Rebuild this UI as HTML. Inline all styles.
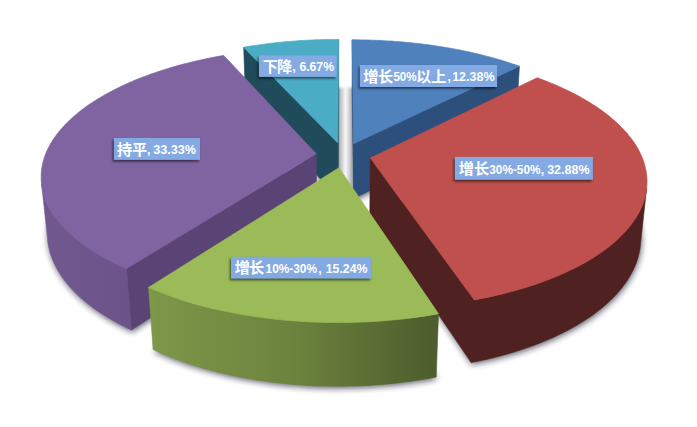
<!DOCTYPE html>
<html lang="zh"><head><meta charset="utf-8"><title>3D pie chart</title>
<style>
html,body{margin:0;padding:0;background:#fff}
body{width:697px;height:427px;overflow:hidden;font-family:"Liberation Sans",sans-serif}
svg{display:block}
.lb{fill:#83aae2}
.cj text{fill:#fff;font-family:"Liberation Sans","Noto Sans CJK SC",sans-serif;font-weight:bold;font-size:15.2px}
.lt text{fill:#fff;font-family:"Liberation Sans",sans-serif;font-weight:bold;font-size:12.4px}
</style></head><body>
<svg width="697" height="427" viewBox="0 0 697 427">
<defs>
<filter id="sh" x="-10%" y="-10%" width="120%" height="130%"><feGaussianBlur stdDeviation="3.2"/></filter>
<linearGradient id="strip" x1="0" y1="0" x2="1" y2="0"><stop offset="0" stop-color="#9a9ba0"/><stop offset="0.22" stop-color="#c9c9cb"/><stop offset="0.52" stop-color="#f7f7f7"/><stop offset="0.78" stop-color="#cfcfd4"/><stop offset="1" stop-color="#9c9fa8"/></linearGradient>
<linearGradient id="stripfade" x1="0" y1="0" x2="0" y2="1"><stop offset="0" stop-color="#fff"/><stop offset="0.35" stop-color="#fff"/><stop offset="1" stop-color="#fff" stop-opacity="0"/></linearGradient>
<filter id="ls" x="-10%" y="-30%" width="120%" height="170%"><feGaussianBlur stdDeviation="1.3"/></filter>
<linearGradient id="g_purple" gradientUnits="userSpaceOnUse" x1="126.4" y1="0" x2="41.6" y2="0"><stop offset="0.000" stop-color="#6c5489"/><stop offset="1.000" stop-color="#71588f"/></linearGradient>
<linearGradient id="g_red" gradientUnits="userSpaceOnUse" x1="646.6" y1="0" x2="474.3" y2="0"><stop offset="0.000" stop-color="#512220"/><stop offset="1.000" stop-color="#512220"/></linearGradient>
<linearGradient id="g_green" gradientUnits="userSpaceOnUse" x1="438.5" y1="0" x2="148.6" y2="0"><stop offset="0.000" stop-color="#4c5c2c"/><stop offset="0.500" stop-color="#6c833e"/><stop offset="1.000" stop-color="#7e9748"/></linearGradient>
</defs>
<rect width="697" height="427" fill="#fff"/>
<g filter="url(#sh)" fill="#1a1a33" opacity="0.72" transform="translate(0.8 2.0)"><polygon points="337.9,198.0 245.4,96.9 252.4,95.6 259.4,94.5 266.4,93.5 273.5,92.5 280.7,91.7 287.9,91.0 295.1,90.3 302.3,89.8 309.6,89.3 316.8,89.0 324.1,88.7 331.4,88.6 338.7,88.5"/><polygon points="353.5,198.7 352.1,89.0 359.7,89.1 367.3,89.2 374.8,89.5 382.4,89.9 389.9,90.4 397.4,90.9 404.9,91.6 412.4,92.4 419.8,93.3 427.1,94.4 434.4,95.5 441.7,96.7 448.9,98.0 456.0,99.4 463.1,101.0 470.1,102.6 477.0,104.4 483.8,106.2 490.5,108.2 497.2,110.2 503.7,112.4 510.1,114.6 516.4,117.0"/><polygon points="316.7,209.4 131.4,330.0 123.8,326.3 116.6,322.6 109.7,318.7 103.2,314.7 97.0,310.6 91.2,306.4 85.7,302.1 80.6,297.7 75.9,293.2 71.5,288.7 67.5,284.1 63.9,279.5 60.6,274.8 57.7,270.1 55.1,265.3 53.0,260.6 51.1,255.8 49.7,251.0 48.6,246.3 47.8,241.5 47.4,236.7 47.3,232.0 47.6,227.3 48.1,222.6 49.1,218.0 50.3,213.4 51.8,208.8 53.6,204.3 55.7,199.9 58.1,195.5 60.8,191.2 63.8,186.9 67.0,182.7 70.5,178.6 74.2,174.6 78.1,170.7 82.3,166.8 86.8,163.0 91.4,159.3 96.2,155.7 101.3,152.2 106.5,148.8 111.9,145.5 117.5,142.3 123.3,139.2 129.3,136.2 135.4,133.3 141.6,130.5 148.0,127.8 154.5,125.2 161.2,122.8 168.0,120.4 174.9,118.1 181.9,116.0 189.0,114.0 196.2,112.0 203.5,110.2 210.8,108.5 218.3,107.0 225.8,105.5"/><polygon points="369.8,213.9 533.8,129.2 540.3,131.8 546.8,134.6 553.1,137.4 559.2,140.4 565.2,143.4 571.0,146.6 576.6,149.9 582.1,153.2 587.3,156.7 592.4,160.3 597.2,164.0 601.9,167.7 606.3,171.6 610.5,175.5 614.4,179.5 618.2,183.6 621.6,187.8 624.8,192.1 627.7,196.4 630.4,200.8 632.8,205.3 634.8,209.8 636.6,214.4 638.1,219.0 639.2,223.7 640.1,228.4 640.6,233.2 640.8,238.0 640.6,242.8 640.1,247.6 639.3,252.5 638.0,257.3 636.5,262.2 634.5,267.0 632.2,271.9 629.6,276.7 626.5,281.5 623.1,286.2 619.3,290.9 615.2,295.6 610.6,300.1 605.7,304.6 600.4,309.1 594.8,313.4 588.8,317.7 582.4,321.8 575.7,325.9 568.6,329.8 561.2,333.6 553.5,337.2 545.5,340.7 537.1,344.0 528.5,347.2 519.6,350.3 510.4,353.1 500.9,355.8 491.3,358.2 481.3,360.5 471.2,362.6"/><polygon points="339.0,224.1 436.2,377.0 426.0,378.9 415.6,380.6 405.1,382.0 394.5,383.3 383.7,384.3 372.9,385.1 362.0,385.7 351.1,386.1 340.2,386.2 329.2,386.2 318.3,385.9 307.4,385.4 296.6,384.6 285.8,383.7 275.1,382.5 264.6,381.1 254.2,379.5 243.9,377.7 233.8,375.7 223.9,373.5 214.2,371.1 204.7,368.6 195.5,365.8 186.4,362.9 177.7,359.8 169.2,356.5 161.0,353.1 153.1,349.5"/></g>
<g id="gap"><rect x="338" y="84" width="14.6" height="112" fill="url(#strip)"/><rect x="337" y="83" width="17" height="7" fill="url(#stripfade)"/></g>
<g id="s_teal"><polygon points="337.8,143.0 243.7,47.2 245.4,96.9 337.9,198.0" fill="#1f4b5a" stroke="#1f4b5a" stroke-width="0.6"/><polygon points="337.8,143.0 338.6,39.4 338.7,88.5 337.9,198.0" fill="#1f4b5a" stroke="#1f4b5a" stroke-width="0.6"/><polygon points="337.8,143.0 243.7,47.2 247.4,46.6 251.1,46.0 254.8,45.5 258.5,44.9 262.2,44.4 266.0,43.9 269.7,43.4 273.5,43.0 277.3,42.6 281.1,42.2 284.9,41.8 288.7,41.5 292.5,41.2 296.3,40.9 300.1,40.6 304.0,40.4 307.8,40.2 311.6,40.0 315.5,39.8 319.3,39.7 323.2,39.6 327.0,39.5 330.9,39.4 334.8,39.4 338.6,39.4" fill="#4bacc6" stroke="#4bacc6" stroke-width="0.7" stroke-linejoin="round"/></g>
<g id="s_blue"><polygon points="353.7,143.7 352.2,39.8 352.1,89.0 353.5,198.7" fill="#2c4f7b" stroke="#2c4f7b" stroke-width="0.6"/><polygon points="353.7,143.7 519.4,66.2 516.4,117.0 353.5,198.7" fill="#2c4f7b" stroke="#2c4f7b" stroke-width="0.6"/><polygon points="353.7,143.7 352.2,39.8 356.2,39.8 360.1,39.9 364.1,39.9 368.0,40.0 371.9,40.2 375.9,40.3 379.8,40.5 383.7,40.7 387.6,40.9 391.6,41.1 395.5,41.4 399.4,41.7 403.3,42.1 407.1,42.4 411.0,42.8 414.9,43.2 418.7,43.6 422.6,44.1 426.4,44.6 430.2,45.1 434.0,45.6 437.8,46.2 441.6,46.8 445.4,47.4 449.1,48.0 452.8,48.7 456.5,49.4 460.2,50.1 463.9,50.9 467.6,51.6 471.2,52.4 474.8,53.3 478.4,54.1 482.0,55.0 485.5,55.9 489.0,56.8 492.5,57.7 496.0,58.7 499.4,59.7 502.8,60.7 506.2,61.8 509.6,62.9 512.9,64.0 516.2,65.1 519.4,66.2" fill="#4f81bd" stroke="#4f81bd" stroke-width="0.7" stroke-linejoin="round"/></g>
<g id="s_purple"><polygon points="316.2,153.8 126.4,268.7 131.4,330.0 316.7,209.4" fill="#5a4375" stroke="#5a4375" stroke-width="0.6"/><polygon points="126.4,268.7 122.5,267.0 118.7,265.2 115.0,263.4 111.3,261.6 107.8,259.8 104.3,257.9 100.9,256.0 97.6,254.0 94.4,252.1 91.3,250.1 88.3,248.1 85.4,246.1 82.5,244.0 79.8,241.9 77.1,239.8 74.6,237.7 72.1,235.6 69.7,233.4 67.5,231.3 65.3,229.1 63.2,226.9 61.2,224.7 59.3,222.5 57.5,220.3 55.8,218.0 54.2,215.8 52.7,213.5 51.3,211.3 50.0,209.0 48.8,206.7 47.6,204.5 46.6,202.2 45.6,199.9 44.8,197.6 44.0,195.3 43.3,193.1 42.8,190.8 42.3,188.5 41.9,186.2 41.6,183.9 47.8,241.1 48.1,243.4 48.5,245.8 49.0,248.2 49.6,250.6 50.2,253.0 51.0,255.4 51.9,257.8 52.8,260.2 53.8,262.6 55.0,265.0 56.2,267.4 57.5,269.8 58.9,272.1 60.4,274.5 62.0,276.9 63.7,279.2 65.4,281.5 67.3,283.9 69.3,286.2 71.3,288.5 73.5,290.8 75.7,293.0 78.0,295.3 80.4,297.5 83.0,299.7 85.6,301.9 88.3,304.1 91.1,306.2 93.9,308.4 96.9,310.5 100.0,312.6 103.1,314.6 106.3,316.6 109.7,318.6 113.1,320.6 116.6,322.5 120.1,324.5 123.8,326.3 127.5,328.2 131.4,330.0" fill="url(#g_purple)" stroke="url(#g_purple)" stroke-width="0.6"/><polygon points="316.2,153.8 126.4,268.7 122.5,267.0 118.7,265.3 115.0,263.5 111.4,261.7 107.9,259.8 104.4,257.9 101.0,256.0 97.7,254.1 94.5,252.2 91.4,250.2 88.4,248.2 85.5,246.2 82.7,244.1 79.9,242.1 77.3,240.0 74.8,237.9 72.3,235.8 69.9,233.6 67.7,231.5 65.5,229.3 63.4,227.1 61.4,224.9 59.5,222.7 57.7,220.5 56.0,218.3 54.4,216.1 52.9,213.8 51.5,211.6 50.2,209.3 48.9,207.1 47.8,204.8 46.7,202.5 45.8,200.3 44.9,198.0 44.1,195.7 43.4,193.4 42.9,191.2 42.4,188.9 41.9,186.6 41.6,184.3 41.4,182.1 41.2,179.8 41.2,177.6 41.2,175.3 41.3,173.1 41.5,170.8 41.7,168.6 42.1,166.4 42.5,164.2 43.1,162.0 43.7,159.8 44.3,157.6 45.1,155.4 45.9,153.3 46.8,151.1 47.8,149.0 48.9,146.9 50.0,144.8 51.2,142.7 52.5,140.6 53.8,138.6 55.3,136.5 56.7,134.5 58.3,132.5 59.9,130.5 61.6,128.5 63.4,126.6 65.2,124.6 67.1,122.7 69.0,120.8 71.0,118.9 73.1,117.1 75.2,115.2 77.4,113.4 79.6,111.6 81.9,109.8 84.2,108.1 86.6,106.3 89.1,104.6 91.6,102.9 94.1,101.3 96.8,99.6 99.4,98.0 102.1,96.4 104.9,94.8 107.7,93.2 110.5,91.7 113.4,90.2 116.3,88.7 119.3,87.3 122.3,85.8 125.3,84.4 128.4,83.0 131.6,81.7 134.7,80.3 137.9,79.0 141.2,77.7 144.5,76.5 147.8,75.3 151.1,74.0 154.5,72.9 157.9,71.7 161.4,70.6 164.8,69.5 168.3,68.4 171.8,67.3 175.4,66.3 179.0,65.3 182.6,64.3 186.2,63.4 189.9,62.5 193.6,61.6 197.3,60.7 201.0,59.9 204.7,59.1 208.5,58.3 212.3,57.5 216.1,56.8 219.9,56.1 223.7,55.4" fill="#8064a2" stroke="#8064a2" stroke-width="0.7" stroke-linejoin="round"/></g>
<g id="s_red"><polygon points="370.3,158.1 474.3,299.9 471.2,362.6 369.8,213.9" fill="#4f2120" stroke="#4f2120" stroke-width="0.6"/><polygon points="646.6,188.5 646.3,190.8 645.9,193.1 645.4,195.4 644.8,197.7 644.1,200.0 643.4,202.3 642.5,204.6 641.6,206.9 640.6,209.2 639.4,211.5 638.2,213.8 636.9,216.1 635.5,218.4 634.0,220.6 632.4,222.9 630.7,225.1 628.9,227.4 627.0,229.6 625.1,231.8 623.0,234.0 620.8,236.2 618.6,238.4 616.2,240.6 613.8,242.7 611.2,244.9 608.6,247.0 605.8,249.1 603.0,251.1 600.1,253.2 597.1,255.2 594.0,257.2 590.8,259.2 587.5,261.2 584.1,263.1 580.7,265.0 577.1,266.9 573.5,268.7 569.8,270.5 566.0,272.3 562.1,274.1 558.1,275.8 554.0,277.5 549.9,279.1 545.7,280.7 541.4,282.3 537.1,283.8 532.6,285.3 528.1,286.8 523.5,288.2 518.9,289.5 514.2,290.9 509.4,292.2 504.6,293.4 499.7,294.6 494.7,295.8 489.7,296.9 484.6,297.9 479.5,298.9 474.3,299.9 471.2,362.6 476.3,361.6 481.3,360.5 486.3,359.4 491.2,358.3 496.0,357.0 500.8,355.8 505.5,354.5 510.2,353.2 514.8,351.8 519.4,350.3 523.8,348.8 528.3,347.3 532.6,345.8 536.9,344.2 541.1,342.5 545.2,340.8 549.2,339.1 553.2,337.4 557.1,335.6 560.9,333.7 564.6,331.9 568.3,330.0 571.8,328.0 575.3,326.1 578.7,324.1 582.0,322.1 585.2,320.0 588.4,318.0 591.4,315.9 594.4,313.7 597.2,311.6 600.0,309.4 602.7,307.2 605.3,305.0 607.8,302.8 610.2,300.5 612.5,298.2 614.8,296.0 616.9,293.7 618.9,291.3 620.9,289.0 622.7,286.7 624.5,284.3 626.2,282.0 627.8,279.6 629.2,277.2 630.6,274.8 631.9,272.4 633.2,270.0 634.3,267.6 635.3,265.2 636.3,262.8 637.1,260.4 637.9,258.0 638.5,255.6 639.1,253.1 639.6,250.7 640.0,248.3 640.3,245.9" fill="#4f2120" stroke="#4f2120" stroke-width="0.6"/><polygon points="370.3,158.1 537.2,77.8 540.6,79.0 543.9,80.3 547.2,81.6 550.5,82.9 553.7,84.2 556.9,85.6 560.1,87.0 563.2,88.4 566.2,89.8 569.3,91.3 572.3,92.8 575.2,94.3 578.1,95.8 581.0,97.4 583.8,99.0 586.5,100.6 589.2,102.2 591.9,103.9 594.5,105.5 597.1,107.2 599.6,109.0 602.1,110.7 604.5,112.5 606.8,114.3 609.1,116.1 611.3,117.9 613.5,119.8 615.6,121.7 617.7,123.6 619.7,125.5 621.6,127.4 623.5,129.4 625.3,131.4 627.1,133.3 628.7,135.4 630.4,137.4 631.9,139.4 633.4,141.5 634.8,143.6 636.1,145.7 637.4,147.8 638.6,149.9 639.7,152.1 640.7,154.2 641.7,156.4 642.6,158.6 643.4,160.8 644.1,163.0 644.7,165.2 645.3,167.4 645.8,169.7 646.2,171.9 646.5,174.2 646.8,176.5 646.9,178.7 647.0,181.0 647.0,183.3 646.8,185.6 646.7,187.9 646.4,190.2 646.0,192.5 645.5,194.8 645.0,197.1 644.3,199.4 643.6,201.7 642.8,204.1 641.8,206.4 640.8,208.7 639.7,211.0 638.5,213.3 637.2,215.6 635.8,217.9 634.3,220.1 632.7,222.4 631.1,224.7 629.3,226.9 627.4,229.2 625.4,231.4 623.4,233.6 621.2,235.8 619.0,238.0 616.6,240.2 614.2,242.4 611.6,244.5 609.0,246.7 606.3,248.8 603.4,250.8 600.5,252.9 597.5,254.9 594.4,257.0 591.2,259.0 587.9,260.9 584.5,262.9 581.1,264.8 577.5,266.7 573.9,268.5 570.1,270.3 566.3,272.1 562.4,273.9 558.4,275.6 554.4,277.3 550.2,279.0 546.0,280.6 541.7,282.2 537.3,283.7 532.9,285.2 528.3,286.7 523.8,288.1 519.1,289.5 514.4,290.8 509.6,292.1 504.7,293.4 499.8,294.6 494.8,295.7 489.7,296.9 484.6,297.9 479.5,298.9 474.3,299.9" fill="#c0504d" stroke="#c0504d" stroke-width="0.7" stroke-linejoin="round"/></g>
<g id="s_green"><polygon points="438.5,313.7 433.2,314.7 427.9,315.6 422.5,316.4 417.0,317.2 411.6,317.9 406.0,318.6 400.5,319.2 394.9,319.8 389.4,320.3 383.7,320.8 378.1,321.2 372.4,321.6 366.8,321.9 361.1,322.1 355.4,322.3 349.7,322.5 344.0,322.5 338.3,322.6 332.5,322.5 326.8,322.5 321.1,322.3 315.4,322.1 309.8,321.9 304.1,321.6 298.4,321.2 292.8,320.8 287.2,320.4 281.6,319.8 276.0,319.3 270.5,318.6 265.0,318.0 259.5,317.2 254.1,316.5 248.7,315.6 243.4,314.7 238.1,313.8 232.8,312.8 227.6,311.8 222.5,310.7 217.4,309.6 212.3,308.4 207.3,307.2 202.4,305.9 197.5,304.6 192.7,303.2 188.0,301.8 183.3,300.4 178.7,298.9 174.2,297.4 169.7,295.8 165.4,294.2 161.1,292.6 156.8,290.9 152.7,289.2 148.6,287.4 153.1,349.5 157.1,351.4 161.2,353.2 165.3,354.9 169.5,356.6 173.8,358.3 178.2,359.9 182.6,361.5 187.1,363.1 191.7,364.6 196.3,366.1 201.0,367.5 205.7,368.9 210.5,370.2 215.4,371.5 220.3,372.7 225.3,373.9 230.4,375.0 235.4,376.1 240.6,377.1 245.8,378.1 251.0,379.0 256.2,379.9 261.5,380.7 266.9,381.4 272.2,382.2 277.6,382.8 283.1,383.4 288.5,383.9 294.0,384.4 299.5,384.9 305.0,385.2 310.6,385.5 316.1,385.8 321.7,386.0 327.2,386.1 332.8,386.2 338.4,386.2 344.0,386.2 349.5,386.1 355.1,386.0 360.7,385.8 366.2,385.5 371.7,385.2 377.3,384.8 382.8,384.4 388.3,383.9 393.7,383.4 399.1,382.8 404.5,382.1 409.9,381.4 415.3,380.6 420.6,379.8 425.8,378.9 431.1,378.0 436.2,377.0" fill="url(#g_green)" stroke="url(#g_green)" stroke-width="0.6"/><polygon points="338.9,167.8 438.5,313.7 433.2,314.7 427.9,315.6 422.5,316.4 417.0,317.2 411.6,317.9 406.0,318.6 400.5,319.2 394.9,319.8 389.4,320.3 383.7,320.8 378.1,321.2 372.4,321.6 366.8,321.9 361.1,322.1 355.4,322.3 349.7,322.5 344.0,322.5 338.3,322.6 332.5,322.5 326.8,322.5 321.1,322.3 315.4,322.1 309.8,321.9 304.1,321.6 298.4,321.2 292.8,320.8 287.2,320.4 281.6,319.8 276.0,319.3 270.5,318.6 265.0,318.0 259.5,317.2 254.1,316.5 248.7,315.6 243.4,314.7 238.1,313.8 232.8,312.8 227.6,311.8 222.5,310.7 217.4,309.6 212.3,308.4 207.3,307.2 202.4,305.9 197.5,304.6 192.7,303.2 188.0,301.8 183.3,300.4 178.7,298.9 174.2,297.4 169.7,295.8 165.4,294.2 161.1,292.6 156.8,290.9 152.7,289.2 148.6,287.4" fill="#9bbb59" stroke="#9bbb59" stroke-width="0.7" stroke-linejoin="round"/></g>
<g id="labshadow" filter="url(#ls)" fill="#000" opacity="0.55" transform="translate(-1.2 1.8)"><rect x="359.8" y="65.0" width="137.3" height="22.0"/><rect x="454.8" y="156.9" width="138.1" height="22.9"/><rect x="231.0" y="256.8" width="140.3" height="21.8"/><rect x="113.9" y="138.0" width="86.1" height="21.9"/><rect x="258.9" y="55.3" width="77.9" height="21.6"/></g>
<g id="labels" ><g id="l_blue"><rect class="lb" x="359.8" y="65.0" width="137.3" height="22.0"/><g class="cj"><text x="363.17 378.12" y="81.62">增长</text><text x="415.95 431.35" y="81.62">以上</text></g><g class="lt"><text x="393.4" y="81.0" textLength="23.3" lengthAdjust="spacingAndGlyphs">50%</text> <text x="447.4" y="81.0">,</text> <text x="452.2" y="81.0" textLength="42.3" lengthAdjust="spacingAndGlyphs">12.38%</text></g></g>
<g id="l_red"><rect class="lb" x="454.8" y="156.9" width="138.1" height="22.9"/><g class="cj"><text x="458.77 473.92" y="173.52">增长</text></g><g class="lt"><text x="489.3" y="173.8" textLength="51.2" lengthAdjust="spacingAndGlyphs">30%-50%</text> <text x="540.8" y="173.8">,</text> <text x="547.2" y="173.8" textLength="42.3" lengthAdjust="spacingAndGlyphs">32.88%</text></g></g>
<g id="l_green"><rect class="lb" x="231.0" y="256.8" width="140.3" height="21.8"/><g class="cj"><text x="234.87 249.12" y="273.42">增长</text></g><g class="lt"><text x="265.6" y="272.6" textLength="51.4" lengthAdjust="spacingAndGlyphs">10%-30%</text> <text x="318.2" y="272.6">,</text> <text x="325.8" y="272.6" textLength="41.6" lengthAdjust="spacingAndGlyphs">15.24%</text></g></g>
<g id="l_purple"><rect class="lb" x="113.9" y="138.0" width="86.1" height="21.9"/><g class="cj"><text x="116.88 131.90" y="154.62">持平</text></g><g class="lt"><text x="147.0" y="153.9">,</text> <text x="153.2" y="153.9" textLength="42.8" lengthAdjust="spacingAndGlyphs">33.33%</text></g></g>
<g id="l_teal"><rect class="lb" x="258.9" y="55.3" width="77.9" height="21.6"/><g class="cj"><text x="262.81 277.01" y="71.92">下降</text></g><g class="lt"><text x="292.2" y="70.9">,</text> <text x="299.4" y="70.9" textLength="34.6" lengthAdjust="spacingAndGlyphs">6.67%</text></g></g></g>
</svg>
</body></html>
